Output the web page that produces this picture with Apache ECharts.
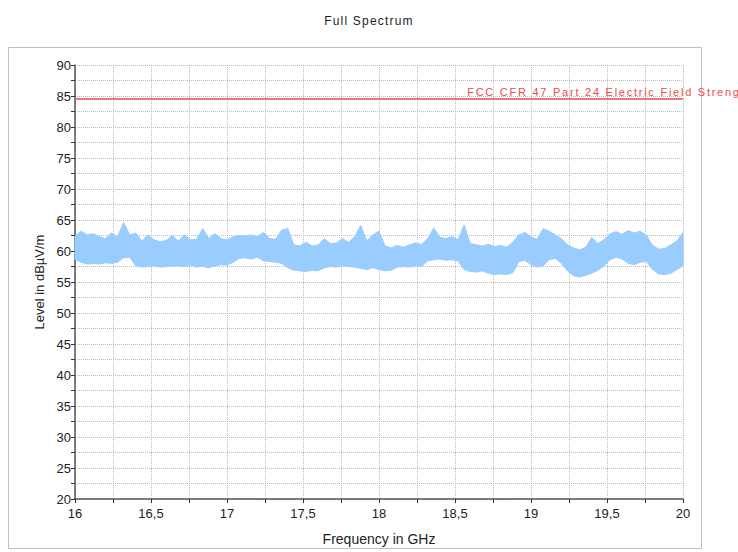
<!DOCTYPE html>
<html>
<head>
<meta charset="utf-8">
<title>Full Spectrum</title>
<script src="https://cdn.jsdelivr.net/npm/echarts@6/dist/echarts.min.js"></script>
<style>
  html, body { margin: 0; padding: 0; background: #ffffff; }
  #chart { width: 738px; height: 552px; }
  /* spaced-out lettering for the title and the limit caption */
  #chart text[fill="#ee4a4a"], #chart text[fill="rgb(238,74,74)"] { letter-spacing: 1.75px; }
  #chart text[fill="#1e1e1e"], #chart text[fill="rgb(30,30,30)"] { letter-spacing: 1.2px; }
</style>
</head>
<body>
<div id="chart"></div>
<script>
// Sweep 16-20 GHz, sampled every 40 MHz: upper and lower edges of the measured trace (dBµV/m)
const freqStartGHz = 16;
const freqStepGHz = 0.04;
const upperDb = [
  62.4, 63.2, 62.6, 62.8, 62.3, 62.0, 62.9, 62.3, 64.6, 62.6,
  62.9, 61.6, 62.6, 61.8, 61.5, 61.7, 62.5, 61.6, 62.6, 61.8,
  61.9, 63.6, 62.0, 62.8, 62.0, 61.8, 62.3, 62.5, 62.4, 62.6,
  62.3, 63.0, 62.0, 61.9, 63.4, 63.6, 61.0, 60.8, 61.4, 60.8,
  61.0, 62.0, 61.2, 61.3, 62.0, 61.4, 62.3, 64.1, 61.6, 62.6,
  63.2, 60.8, 60.5, 60.9, 60.6, 61.0, 61.3, 61.1, 62.0, 63.7,
  62.2, 62.0, 62.3, 61.8, 64.2, 61.2, 61.0, 60.8, 61.1, 60.7,
  60.9, 60.6, 61.4, 62.6, 63.0, 62.3, 61.9, 63.6, 63.2, 62.6,
  62.0, 61.0, 60.5, 60.2, 60.6, 62.2, 61.2, 61.8, 62.8, 63.1,
  62.7, 63.3, 62.9, 63.2, 62.5, 60.9, 60.3, 60.4, 61.0, 61.6,
  63.0
];
const lowerDb = [
  58.6, 58.2, 57.9, 58.0, 57.9, 58.1, 58.0, 58.2, 58.9, 59.0,
  57.6, 57.4, 57.5, 57.6, 57.4, 57.5, 57.6, 57.6, 57.5, 57.7,
  57.4, 57.5, 57.3, 57.6, 57.8, 57.7, 58.2, 58.8, 58.9, 58.7,
  59.0, 58.4, 58.3, 58.2, 58.0, 57.3, 56.9, 56.8, 56.7, 56.9,
  56.8, 57.3, 57.5, 57.4, 57.6, 57.5, 57.4, 57.2, 57.0, 57.3,
  57.0, 56.8, 56.9, 57.4, 57.5, 57.4, 57.6, 57.5, 58.4, 58.6,
  58.7, 58.5, 58.6, 58.4, 57.0, 56.7, 56.6, 56.8, 56.4, 56.2,
  56.3, 56.2, 56.5, 58.3, 58.5, 57.8, 57.4, 57.6, 58.6, 58.8,
  58.0, 56.8, 56.0, 55.8, 56.1, 56.4, 56.9, 57.6, 58.6, 59.0,
  58.7, 58.0, 57.8, 58.2, 58.3, 57.0, 56.3, 56.2, 56.4, 57.0,
  57.6
];

// Regulatory limit line
const limitName = 'FCC CFR 47 Part 24 Electric Field Strength';
const limitDb = [84.5];
const limitLabelAtGHz = 18.58;

// Axis ranges
const freqRange = [16, 20];
const levelRange = [20, 90];

const freqGHz = upperDb.map((_, i) => +(freqStartGHz + i * freqStepGHz).toFixed(2));
const bandData = freqGHz.map((f, i) => [f, lowerDb[i], upperDb[i]]);
const limitLine = freqRange.map(f => [f, limitDb[0]]);

const chart = echarts.init(document.getElementById('chart'), null, { renderer: 'svg' });

const sansFont = "'Liberation Sans', Arial, sans-serif";
const axisFont = { fontFamily: sansFont, fontSize: 13, color: '#222' };
const gridLine = { show: true, lineStyle: { type: 'dotted', color: '#bdbdbd', width: 1 } };

// Trace envelope: one filled polygon running along the upper edge and back along the lower edge
function renderBand(params, api) {
  if (params.dataIndex !== 0) return null;
  const top = bandData.map(d => api.coord([d[0], d[2]]));
  const bottom = bandData.slice().reverse().map(d => api.coord([d[0], d[1]]));
  return {
    type: 'polygon',
    shape: { points: top.concat(bottom) },
    style: { fill: '#99ccff', stroke: '#99ccff', lineWidth: 1 },
    silent: true
  };
}

chart.setOption({
  animation: false,
  backgroundColor: '#ffffff',
  title: {
    text: 'Full Spectrum',
    left: 'center',
    top: 10,
    textStyle: { fontFamily: sansFont, fontSize: 12, fontWeight: 'normal', color: '#1e1e1e' }
  },
  graphic: [{
    type: 'rect',
    shape: { x: 8.5, y: 47.5, width: 693, height: 501 },
    style: { fill: 'none', stroke: '#bfbfbf', lineWidth: 1 },
    silent: true,
    z: -1
  }],
  grid: { left: 75, top: 65, right: 55, bottom: 53, containLabel: false },
  xAxis: {
    type: 'value',
    min: freqRange[0],
    max: freqRange[1],
    interval: 0.25,
    name: 'Frequency in GHz',
    nameLocation: 'middle',
    nameGap: 33,
    nameTextStyle: Object.assign({}, axisFont, { fontSize: 14 }),
    axisLine: { show: true, onZero: false, lineStyle: { color: '#555', width: 1.5 } },
    axisTick: { show: true, length: 4, lineStyle: { color: '#333' } },
    axisLabel: Object.assign({}, axisFont, {
      margin: 8,
      formatter: v => (Math.abs(v * 2 - Math.round(v * 2)) < 1e-6 ? String(v).replace('.', ',') : '')
    }),
    splitLine: gridLine
  },
  yAxis: {
    type: 'value',
    min: levelRange[0],
    max: levelRange[1],
    interval: 2.5,
    name: 'Level in dBµV/m',
    nameLocation: 'middle',
    nameGap: 28,
    nameTextStyle: axisFont,
    axisLine: { show: true, onZero: false, lineStyle: { color: '#555', width: 1.5 } },
    axisTick: { show: true, length: 4, lineStyle: { color: '#333' } },
    axisLabel: Object.assign({}, axisFont, {
      margin: 4,
      formatter: v => (v % 5 === 0 ? String(v) : '')
    }),
    splitLine: gridLine
  },
  series: [
    {
      name: 'Level',
      type: 'custom',
      data: bandData,
      encode: { x: 0, y: [1, 2] },
      renderItem: renderBand,
      silent: true,
      z: 2
    },
    {
      name: limitName,
      type: 'line',
      data: limitLine,
      symbol: 'none',
      lineStyle: { color: '#ee4a4a', width: 1.5 },
      silent: true,
      z: 3,
      markPoint: {
        symbol: 'circle',
        symbolSize: 0,
        data: [{ coord: [limitLabelAtGHz, limitDb[0]] }],
        label: {
          show: true,
          position: 'right',
          distance: 0,
          offset: [0, -7],
          formatter: limitName,
          color: '#ee4a4a',
          fontFamily: sansFont,
          fontSize: 11
        }
      }
    }
  ]
});
</script>
</body>
</html>
